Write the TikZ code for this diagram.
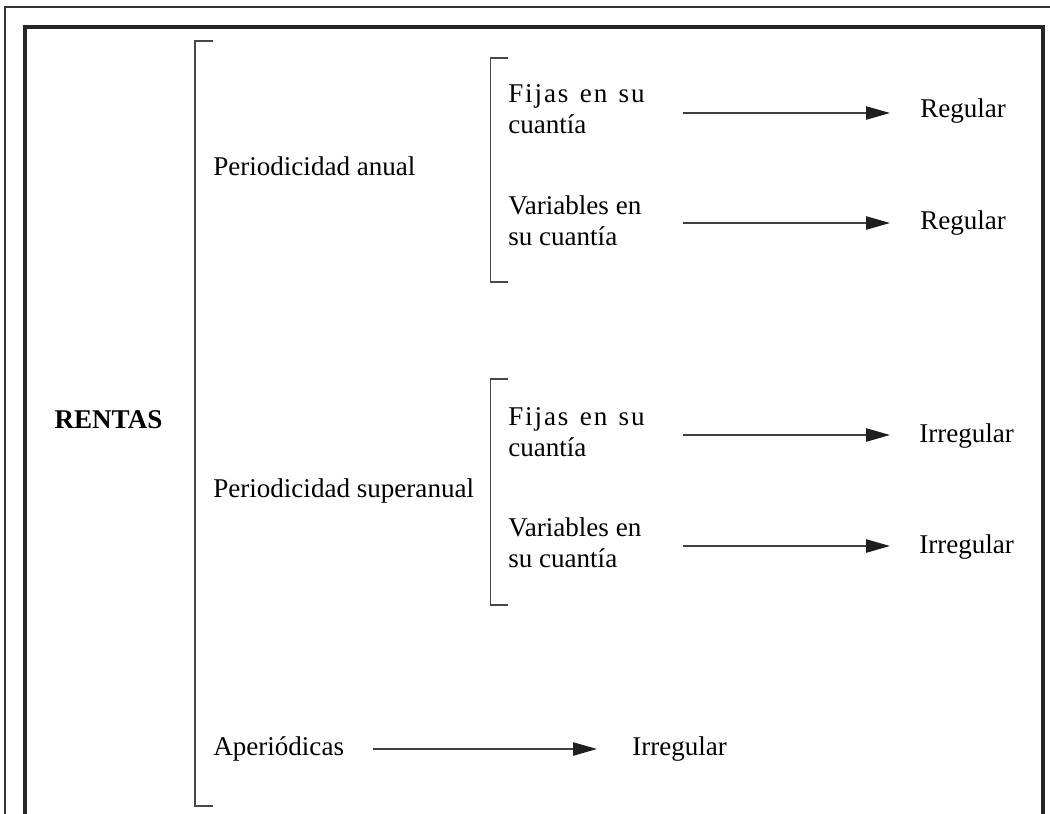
\documentclass[tikz,border=0pt]{standalone}
\usepackage{fontspec}
\setmainfont{Liberation Serif}
\usetikzlibrary{arrows.meta}
\newcommand\fijaslinea{{\addfontfeature{LetterSpace=7}Fijas\hspace{0.42em}en\hspace{0.42em}su}}
\begin{document}
\begin{tikzpicture}[x=0.75pt,y=-0.75pt,
  lbl/.style={inner sep=0pt,anchor=base west,font=\fontsize{20.3}{23.4}\selectfont},
  brk/.style={draw=black!72,line width=1.1pt},
  arr/.style={draw=black!75,line width=1pt,-{Triangle[length=18pt,width=10pt,color=black!88,fill=black!88]}},
  thinframe/.style={draw=black!80,line width=0.8pt},
  thickframe/.style={draw=black!85,line width=2.3pt}]
\useasboundingbox (0,0) rectangle (1050,814);
\fill[white] (0,0) rectangle (1050,814);
% frames
\draw[thinframe] (5,820) -- (5,7) -- (1056,7);
\draw[thickframe] (25,820) -- (25,27) -- (1043,27) -- (1043,820);
% root
\node[lbl,font=\fontsize{20.3}{23.4}\selectfont\bfseries,anchor=base] (rentas) at (108.5,428) {RENTAS};
% big bracket
\draw[brk] (213,41) -- (195,41) -- (195,806) -- (213,806);
% level 1
\node[lbl] (anual) at (213,175.7) {Periodicidad anual};
\node[lbl] (super) at (213,497.7) {Periodicidad superanual};
\node[lbl] (aper) at (213,755) {Aperiódicas};
% inner brackets
\draw[brk] (508,58) -- (490.5,58) -- (490.5,282) -- (508,282);
\draw[brk] (508,379) -- (490.5,379) -- (490.5,605) -- (508,605);
% level 2
\node[lbl] (fa) at (508,102.7) {\begin{tabular}[t]{@{}l@{}}\fijaslinea\\cuantía\end{tabular}};
\node[lbl] (va) at (508,214.3) {\begin{tabular}[t]{@{}l@{}}Variables en\\su cuantía\end{tabular}};
\node[lbl] (fs) at (508,425) {\begin{tabular}[t]{@{}l@{}}\fijaslinea\\cuantía\end{tabular}};
\node[lbl] (vs) at (508,536) {\begin{tabular}[t]{@{}l@{}}Variables en\\su cuantía\end{tabular}};
% results
\node[lbl] (r1) at (920,117.5) {Regular};
\node[lbl] (r2) at (920,229) {Regular};
\node[lbl] (r3) at (919,442.5) {Irregular};
\node[lbl] (r4) at (919,553.5) {Irregular};
\node[lbl] (r5) at (632,755.5) {Irregular};
% arrow ends
\coordinate (a1) at (683,113);
\coordinate (b1) at (890,113);
\coordinate (a2) at (683,223);
\coordinate (b2) at (890,223);
\coordinate (a3) at (683,435);
\coordinate (b3) at (890,435);
\coordinate (a4) at (683,546);
\coordinate (b4) at (890,546);
\coordinate (a5) at (373,749);
\coordinate (b5) at (597,749);
\draw[arr] (a1) -- (b1);
\draw[arr] (a2) -- (b2);
\draw[arr] (a3) -- (b3);
\draw[arr] (a4) -- (b4);
\draw[arr] (a5) -- (b5);
\end{tikzpicture}
\end{document}
